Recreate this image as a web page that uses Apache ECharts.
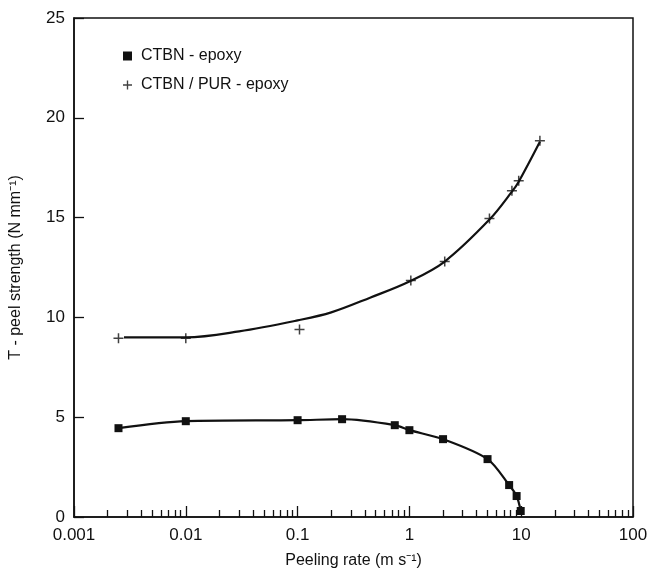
<!DOCTYPE html>
<html><head><meta charset="utf-8">
<script src="https://cdn.jsdelivr.net/npm/echarts@6/dist/echarts.min.js"></script>
<style>html,body{margin:0;padding:0;background:#fff}#c{width:652px;height:574px}</style>
</head><body><div id="c"></div>
<script>
// Peeling rate (m s^-1) and T-peel strength (N mm^-1)
const ctbnRate = [0.0025, 0.01, 0.1, 0.25, 0.74, 1.0, 2.0, 5.0, 7.8, 9.1, 9.9];
const ctbnPeel = [4.45, 4.8, 4.85, 4.9, 4.6, 4.35, 3.9, 2.9, 1.6, 1.05, 0.3];
const purRate = [0.0025, 0.01, 0.104, 1.03, 2.07, 5.2, 8.26, 9.5, 14.7];
const purPeel = [8.95, 8.95, 9.4, 11.85, 12.8, 14.95, 16.35, 16.85, 18.85];
// fitted curve through the CTBN/PUR-epoxy points
const purFitRate = [0.0028, 0.01, 0.03, 0.1, 0.2, 0.45, 1.0, 2.07, 5.2, 8.26, 9.5, 14.7];
const purFitPeel = [9.0, 9.0, 9.3, 9.85, 10.25, 11.0, 11.8, 12.8, 14.9, 16.3, 16.8, 18.8];
const xTickLabels = ['0.001', '0.01', '0.1', '1', '10', '100'];
const yTickLabels = ['0', '5', '10', '15', '20', '25'];

const L = Math.log10;
const plus = 'path://M4.25,0h1.5v4.25h4.25v1.5h-4.25v4.25h-1.5v-4.25h-4.25v-1.5h4.25z';
const minorTicks = [];
for (let d = -3; d < 2; d++) for (let k = 2; k <= 9; k++) minorTicks.push(L(k) + d);
const font = 'Liberation Sans';

const chart = echarts.init(document.getElementById('c'), null, {renderer: 'canvas'});
chart.setOption({
  animation: false,
  backgroundColor: '#fff',
  textStyle: {fontFamily: font, color: '#111'},
  grid: {left: 72, right: 19, top: 18, bottom: 53, show: true, borderColor: '#111', borderWidth: 1.5, backgroundColor: 'transparent'},
  legend: {
    orient: 'vertical', left: 118, top: 43, itemGap: 13, itemWidth: 9, itemHeight: 9,
    textStyle: {fontSize: 16, color: '#111', fontFamily: font, padding: [0, 0, 0, 4]},
    data: [{name: 'CTBN - epoxy', icon: 'rect'}, {name: 'CTBN / PUR - epoxy', icon: plus}]
  },
  xAxis: [{
    type: 'value', min: -3, max: 2, interval: 1,
    name: 'Peeling rate (m s\u207B\u00B9)', nameLocation: 'middle', nameGap: 36,
    nameTextStyle: {fontSize: 16, color: '#111', fontFamily: font},
    axisLine: {onZero: false, lineStyle: {color: '#111', width: 1.5}},
    axisTick: {inside: true, length: 11, lineStyle: {color: '#111', width: 1.3}},
    axisLabel: {fontSize: 17, color: '#111', margin: 10, fontFamily: font,
      formatter: v => xTickLabels[Math.round(v) + 3]},
    splitLine: {show: false}
  }, {
    type: 'value', min: -3, max: 2, position: 'bottom',
    axisLine: {show: false, onZero: false},
    axisTick: {show: true, inside: true, length: 7, customValues: minorTicks, lineStyle: {color: '#111', width: 1.3}},
    axisLabel: {show: false},
    splitLine: {show: false}
  }],
  yAxis: {
    type: 'value', min: 0, max: 25, interval: 5,
    name: 'T - peel strength (N mm\u207B\u00B9)', nameLocation: 'middle', nameGap: 50,
    nameTextStyle: {fontSize: 16, color: '#111', fontFamily: font},
    axisLine: {onZero: false, lineStyle: {color: '#111', width: 1.5}},
    axisTick: {inside: true, length: 10, lineStyle: {color: '#111', width: 1.3}},
    axisLabel: {fontSize: 17, color: '#111', margin: 9, fontFamily: font,
      formatter: v => yTickLabels[Math.round(v / 5)]},
    splitLine: {show: false}
  },
  series: [{
    name: 'CTBN - epoxy', type: 'line', smooth: 0.3,
    data: ctbnRate.map((r, i) => [L(r), ctbnPeel[i]]),
    symbol: 'rect', symbolSize: 8,
    itemStyle: {color: '#111'}, lineStyle: {color: '#111', width: 2.2}
  }, {
    name: 'CTBN / PUR - epoxy', type: 'scatter',
    data: purRate.map((r, i) => [L(r), purPeel[i]]),
    symbol: plus, symbolSize: 10, itemStyle: {color: '#111'}, z: 3
  }, {
    name: 'fit', type: 'line', smooth: 0.35, showSymbol: false, symbol: 'none',
    data: purFitRate.map((r, i) => [L(r), purFitPeel[i]]),
    lineStyle: {color: '#111', width: 2.2}
  }]
});
</script></body></html>
